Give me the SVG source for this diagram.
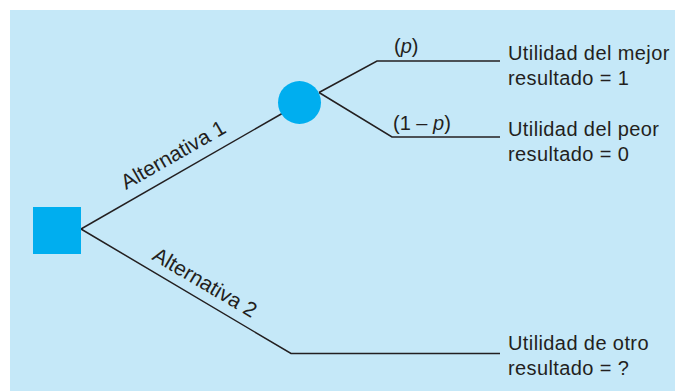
<svg xmlns="http://www.w3.org/2000/svg" width="675" height="391" viewBox="0 0 675 391">
  <style>
    .t { font-family: "Liberation Sans", Arial, sans-serif; font-size: 20px; fill: #231F20; }
    .alt { font-size: 21px; }
    .lbl { letter-spacing: 0.4px; }
    .edge { fill: none; stroke: #231F20; stroke-width: 1.5; }
    .node { fill: #00AEEF; }
  </style>
  <rect x="10" y="10" width="665" height="381" fill="#C5E8F8"/>
  <g id="connectors">
    <path class="edge" d="M81,229 L283,113"/>
    <path class="edge" d="M81,229 L291,353.5 L500,353.5"/>
    <path class="edge" d="M319,92.5 L377,61 L500,61"/>
    <path class="edge" d="M319,92.5 L392,137 L500,137"/>
    <text class="t alt" transform="translate(126,190) rotate(-29.8)">Alternativa 1</text>
    <text class="t alt" transform="translate(151,259) rotate(30.5)">Alternativa 2</text>
    <text class="t" x="394" y="53">(<tspan font-style="italic">p</tspan>)</text>
    <text class="t" x="393" y="129.5">(1 – <tspan font-style="italic">p</tspan>)</text>
  </g>
  <g id="decision">
    <rect class="node" x="33" y="207" width="48" height="47"/>
  </g>
  <g id="chance">
    <circle class="node" cx="299.5" cy="102.5" r="21.5"/>
  </g>
  <g id="outcome-best">
    <text class="t lbl" x="508" y="59.5">Utilidad del mejor</text>
    <text class="t lbl" x="508" y="85">resultado = 1</text>
  </g>
  <g id="outcome-worst">
    <text class="t lbl" x="508" y="136">Utilidad del peor</text>
    <text class="t lbl" x="508" y="161">resultado = 0</text>
  </g>
  <g id="outcome-other">
    <text class="t lbl" x="508" y="349.5">Utilidad de otro</text>
    <text class="t lbl" x="508" y="375">resultado = ?</text>
  </g>
</svg>
